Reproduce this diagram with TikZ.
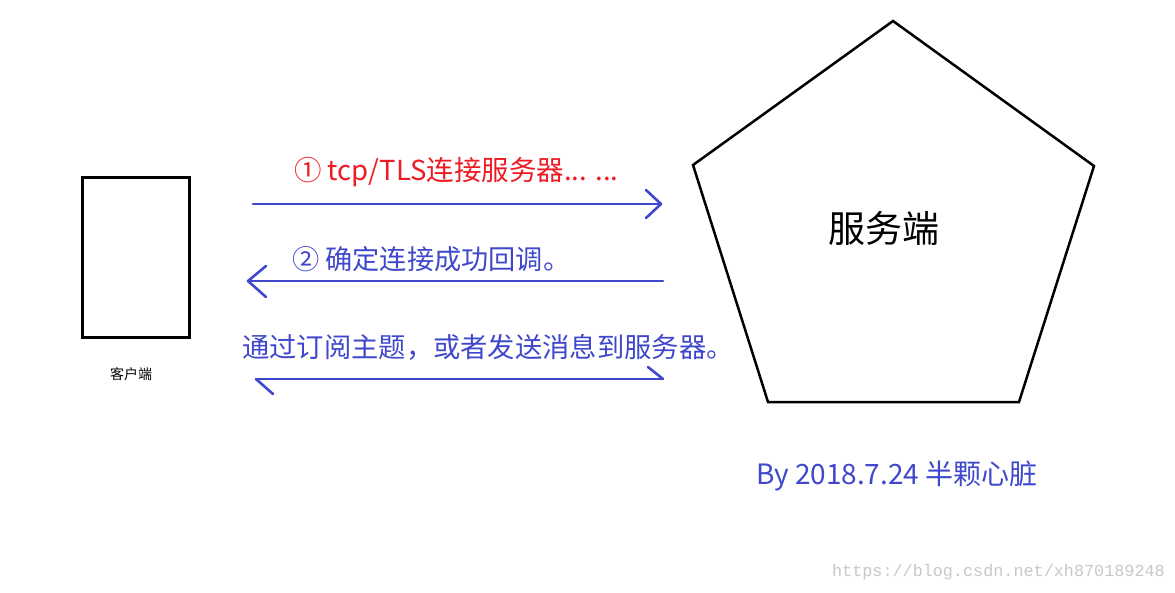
\documentclass[tikz,border=0pt]{standalone}
\usepackage{fontspec}
\setmainfont{Noto Sans CJK SC}
\newfontfamily\wmfont{Liberation Mono}
\definecolor{pblue}{RGB}{63,72,204}
\definecolor{pred}{RGB}{237,28,36}
\definecolor{wgrey}{RGB}{200,200,200}
\begin{document}
\begin{tikzpicture}[x=1pt,y=-1pt,
  arr/.style={draw=pblue,line width=2.6pt,line cap=round,line join=round},
  lbl/.style={inner sep=0pt,anchor=west,font=\fontsize{27.2}{30}\selectfont},
]
\useasboundingbox[fill=white] (0,0) rectangle (1175,592);
% client
\node[draw=black,line width=3pt,minimum width=107pt,minimum height=160pt,inner sep=0pt] (client) at (135.5,257) {};
\node[inner sep=0pt,font=\fontsize{14}{16}\selectfont] (clientlbl) at (131,374) {客户端};
% server
\draw[line width=2.5pt,line join=miter] (893,21) -- (1094,166) -- (1019,402) -- (768,402) -- (693,165) -- cycle;
\node[inner sep=0pt,font=\fontsize{37}{40}\selectfont] (server) at (884,228) {服务端};
% labels
\node[lbl,text=pred,font=\fontsize{27.5}{30}\selectfont] (t1) at (294,172) {① tcp/TLS连接服务器... ...};
\node[lbl,text=pblue] (t2) at (292,259) {② 确定连接成功回调。};
\node[lbl,text=pblue,font=\fontsize{27.3}{30}\selectfont] (t3) at (242,347) {通过订阅主题，或者发送消息到服务器。};
\node[lbl,text=pblue,font=\fontsize{28}{30}\selectfont] (by) at (756,476) {By 2018.7.24 半颗心脏};
\node[inner sep=0pt,anchor=east,text=wgrey,font=\wmfont\fontsize{16.8}{18}\selectfont] (wm) at (1165,572) {https://blog.csdn.net/xh870189248};
% arrow 1
\coordinate (a1s) at (253,204);
\coordinate (a1e) at (661,204);
\draw[arr] (a1s) -- (a1e);
\draw[arr] (646,190) -- (a1e) -- (646,218);
% arrow 2
\coordinate (a2s) at (663,281);
\coordinate (a2e) at (248,281);
\draw[arr] (a2s) -- (a2e);
\draw[arr] (266,266) -- (a2e) -- (266,297);
% arrow 3
\coordinate (a3l) at (256,379);
\coordinate (a3r) at (663,379);
\draw[arr] (a3l) -- (a3r);
\draw[arr] (273,394) -- (a3l);
\draw[arr] (648,367) -- (a3r);
\end{tikzpicture}
\end{document}
